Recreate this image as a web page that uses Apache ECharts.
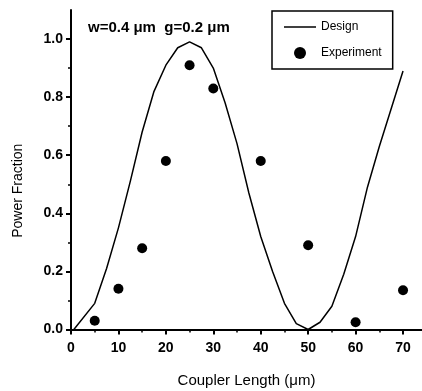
<!DOCTYPE html>
<html>
<head>
<meta charset="utf-8">
<script src="https://cdn.jsdelivr.net/npm/echarts@6/dist/echarts.min.js"></script>
<style>
  html, body { margin: 0; padding: 0; background: #fff; }
  #chart { width: 422px; height: 391px; }
</style>
</head>
<body>
<div id="chart"></div>
<script>
// design curve
const designX = [0.6, 5, 7.5, 10, 12.5, 15, 17.5, 20, 22.5, 25, 27.5, 30, 32.5, 35, 37.5, 40, 42.5, 45, 47.5, 50, 52.5, 55, 57.5, 60, 62.5, 65, 67.5, 70];
const designY = [0, 0.09, 0.21, 0.35, 0.51, 0.68, 0.82, 0.91, 0.97, 0.99, 0.97, 0.9, 0.78, 0.64, 0.47, 0.32, 0.2, 0.09, 0.02, 0, 0.025, 0.08, 0.19, 0.32, 0.49, 0.63, 0.76, 0.89];

// measured points
const expX = [5, 10, 15, 20, 25, 30, 40, 50, 60, 70];
const expY = [0.03, 0.14, 0.28, 0.58, 0.91, 0.83, 0.58, 0.29, 0.025, 0.135];

const xMajor = [0, 10, 20, 30, 40, 50, 60, 70];
const xMinor = [5, 15, 25, 35, 45, 55, 65];
const yMajor = [0, 0.2, 0.4, 0.6, 0.8, 1.0];
const yMinor = [0.1, 0.3, 0.5, 0.7, 0.9];

const chart = echarts.init(document.getElementById("chart"));

const font = "Liberation Sans, Arial, sans-serif";
const axisBase = {
  type: "value",
  splitLine: { show: false },
};

const option = {
  backgroundColor: "#fff",
  animation: false,
  textStyle: { fontFamily: font, color: "#000" },
  title: {
    text: "w=0.4 μm  g=0.2 μm",
    left: 88,
    top: 20,
    padding: 0,
    textStyle: { fontFamily: font, fontSize: 15, fontWeight: "bold", color: "#000" },
  },
  legend: {
    orient: "vertical",
    left: 272,
    top: 11,
    padding: [10, 11, 10, 12],
    itemGap: 14,
    itemWidth: 32,
    itemHeight: 12,
    borderColor: "#000",
    borderWidth: 1.5,
    borderRadius: 0,
    textStyle: { fontFamily: font, fontSize: 12, color: "#000" },
    data: [
      { name: "Design", icon: "path://M0,0h32v1.5h-32z" },
      { name: "Experiment", icon: "circle" },
    ],
  },
  grid: { left: 71, right: 0, top: 10, bottom: 61.5, outerBoundsMode: "none", containLabel: false },
  xAxis: [
    {
      ...axisBase,
      min: 0,
      max: 74,
      name: "Coupler Length (μm)",
      nameLocation: "middle",
      nameGap: 44,
      nameTextStyle: { fontFamily: font, fontSize: 15, color: "#000" },
      axisLine: { lineStyle: { color: "#000", width: 2 } },
      axisTick: { customValues: xMajor, length: 5, lineStyle: { color: "#000", width: 2 } },
      axisLabel: { customValues: xMajor, margin: 12, fontSize: 14, fontWeight: "bold", color: "#000" },
    },
    {
      ...axisBase,
      min: 0,
      max: 74,
      position: "bottom",
      axisLine: { show: false },
      axisTick: { customValues: xMinor, length: 3, lineStyle: { color: "#000", width: 1.5 } },
      axisLabel: { show: false },
    },
  ],
  yAxis: [
    {
      ...axisBase,
      min: 0,
      max: 1.1,
      name: "Power Fraction",
      nameLocation: "middle",
      nameGap: 46,
      nameTextStyle: { fontFamily: font, fontSize: 14, color: "#000", padding: [0, 42, 0, 0] },
      axisLine: { show: true, lineStyle: { color: "#000", width: 2 } },
      axisTick: { show: true, customValues: yMajor, length: 5, lineStyle: { color: "#000", width: 2 } },
      axisLabel: {
        customValues: yMajor,
        margin: 8,
        fontSize: 14,
        fontWeight: "bold",
        color: "#000",
        formatter: (v) => v.toFixed(1),
      },
    },
    {
      ...axisBase,
      min: 0,
      max: 1.1,
      position: "left",
      axisLine: { show: false },
      axisTick: { show: true, customValues: yMinor, length: 3, lineStyle: { color: "#000", width: 1.5 } },
      axisLabel: { show: false },
    },
  ],
  series: [
    {
      name: "Design",
      type: "line",
      symbol: "none",
      lineStyle: { color: "#000", width: 1.5 },
      itemStyle: { color: "#000" },
      data: designX.map((x, i) => [x, designY[i]]),
    },
    {
      name: "Experiment",
      type: "scatter",
      symbol: "circle",
      symbolSize: 10,
      itemStyle: { color: "#000", opacity: 1 },
      data: expX.map((x, i) => [x, expY[i]]),
    },
  ],
};

chart.setOption(option);
</script>
</body>
</html>
